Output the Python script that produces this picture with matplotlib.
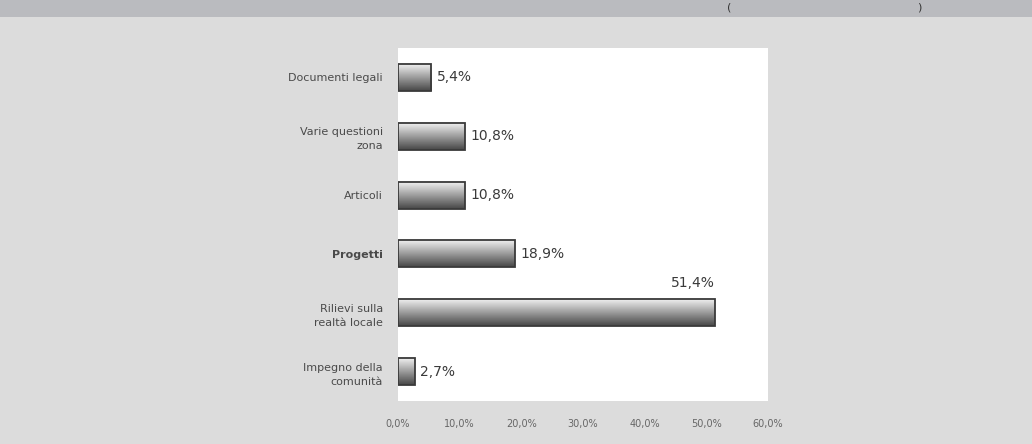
import numpy as np
import matplotlib
matplotlib.use("Agg")
import matplotlib.pyplot as plt
from matplotlib.patches import Rectangle

categories = ["Documenti legali", "Varie questioni\nzona", "Articoli", "Progetti",
              "Rilievi sulla\nrealtà locale", "Impegno della\ncomunità"]
values = [5.4, 10.8, 10.8, 18.9, 51.4, 2.7]
value_labels = ["5,4%", "10,8%", "10,8%", "18,9%", "51,4%", "2,7%"]
xticks = [0, 10, 20, 30, 40, 50, 60]
xtick_labels = ["0,0%", "10,0%", "20,0%", "30,0%", "40,0%", "50,0%", "60,0%"]

fig = plt.figure(figsize=(10.32, 4.44), dpi=100)
fig.patch.set_facecolor("#dcdcdc")
# header band
fig.add_artist(Rectangle((0, 0.962), 1, 0.04, transform=fig.transFigure,
                         facecolor="#babbbf", edgecolor="none"))
fig.text(0.704, 0.982, "(", fontsize=8, color="#333333", va="center")
fig.text(0.889, 0.982, ")", fontsize=8, color="#333333", va="center")

ax = fig.add_axes([0.3857, 0.0968, 0.3585, 0.7951])
ax.set_facecolor("white")
ax.set_xlim(0, 60)
ax.set_ylim(len(categories) - 0.5, -0.5)

grad = np.linspace(0.96, 0.28, 64).reshape(-1, 1)
h = 0.46
for i, v in enumerate(values):
    ax.imshow(grad, cmap="gray", vmin=0, vmax=1, aspect="auto",
              extent=(0, v, i + h / 2, i - h / 2), zorder=2, interpolation="bilinear")
    ax.add_patch(Rectangle((0, i - h / 2), v, h, facecolor="none",
                           edgecolor="#3a3a3a", linewidth=1.3, zorder=3))
    if v == max(values):
        ax.annotate(value_labels[i], xy=(v, i - h / 2), xytext=(0, 7),
                    textcoords="offset points", ha="right", va="bottom",
                    fontsize=10, color="#3a3a3a")
    else:
        ax.annotate(value_labels[i], xy=(v, i), xytext=(4, 0),
                    textcoords="offset points", ha="left", va="center",
                    fontsize=10, color="#3a3a3a")

ax.set_yticks(range(len(categories)))
ax.set_yticklabels(categories, fontsize=8, color="#4a4a4a", linespacing=1.5)
ax.get_yticklabels()[3].set_fontweight("bold")
ax.set_xticks(xticks)
ax.set_xticklabels(xtick_labels, fontsize=7, color="#666666")
ax.tick_params(axis="both", length=0)
ax.tick_params(axis="y", pad=11)
ax.tick_params(axis="x", pad=13)
for s in ax.spines.values():
    s.set_visible(False)

fig.savefig("out.png", dpi=100, facecolor=fig.get_facecolor())
